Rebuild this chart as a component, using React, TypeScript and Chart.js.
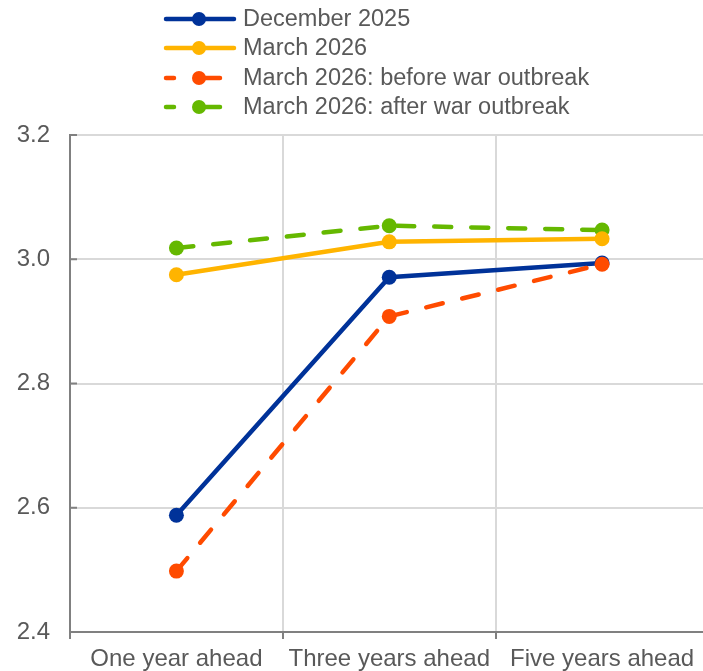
import React, { useEffect, useRef } from "react";
import { Chart, registerables } from "chart.js";

Chart.register(...registerables);

const categories = ["One year ahead", "Three years ahead", "Five years ahead"];
const december2025 = [2.588, 2.971, 2.994];
const march2026 = [2.975, 3.028, 3.033];
const beforeWar = [2.498, 2.908, 2.992];
const afterWar = [3.018, 3.054, 3.047];
const seriesNames = [
  "December 2025",
  "March 2026",
  "March 2026: before war outbreak",
  "March 2026: after war outbreak",
];
const seriesColors = ["#003299", "#FFB400", "#FF4B00", "#65B800"];
const seriesDashed = [false, false, true, true];
const yMin = 2.4;
const yMax = 3.2;
const yStep = 0.2;

const FONT = "'Liberation Sans', Arial, sans-serif";
const TEXT = "#595959";
const AXIS = "#808080";
const GRID = "#d9d9d9";

const legendPlugin = {
  id: "customLegend",
  afterDraw(chart: any) {
    const ctx = chart.ctx;
    ctx.save();
    const rows = [19, 48, 78, 107];
    seriesNames.forEach((name, i) => {
      const y = rows[i];
      const color = seriesColors[i];
      ctx.strokeStyle = color;
      ctx.fillStyle = color;
      ctx.lineWidth = 4.5;
      ctx.lineCap = "round";
      ctx.beginPath();
      if (seriesDashed[i]) {
        ctx.moveTo(166, y);
        ctx.lineTo(174, y);
        ctx.moveTo(199, y);
        ctx.lineTo(220, y);
      } else {
        ctx.moveTo(166, y);
        ctx.lineTo(234, y);
      }
      ctx.stroke();
      ctx.beginPath();
      ctx.arc(199, y, 7, 0, Math.PI * 2);
      ctx.fill();
      ctx.fillStyle = TEXT;
      ctx.font = `23.5px ${FONT}`;
      ctx.textBaseline = "middle";
      ctx.textAlign = "left";
      ctx.fillText(name, 243, y + 1);
    });
    ctx.restore();
  },
};

const innerTicksPlugin = {
  id: "innerTicks",
  beforeDatasetsDraw(chart: any) {
    const ctx = chart.ctx;
    const ys = chart.scales.y;
    const left = chart.chartArea.left;
    ctx.save();
    ctx.strokeStyle = AXIS;
    ctx.lineWidth = 2;
    ys.ticks.forEach((t: any) => {
      const py = ys.getPixelForValue(t.value);
      ctx.beginPath();
      ctx.moveTo(left, py);
      ctx.lineTo(left + 7, py);
      ctx.stroke();
    });
    ctx.restore();
  },
};

export default function App() {
  const ref = useRef<HTMLCanvasElement>(null);
  useEffect(() => {
    const canvas = ref.current;
    if (!canvas) return;
    const values = [december2025, march2026, beforeWar, afterWar];
    const orders = [2, 1, 0, 3];
    const chart = new Chart(canvas, {
      type: "line",
      data: {
        labels: categories,
        datasets: values.map((v, i) => ({
          label: seriesNames[i],
          data: v,
          borderColor: seriesColors[i],
          backgroundColor: seriesColors[i],
          pointBackgroundColor: seriesColors[i],
          pointBorderWidth: 0,
          pointRadius: 7.5,
          borderWidth: 4.5,
          borderDash: seriesDashed[i] ? [17, 20] : [],
          borderCapStyle: seriesDashed[i] ? "round" : "butt",
          tension: 0,
          order: orders[i],
          fill: false,
        })),
      },
      options: {
        responsive: false,
        animation: false,
        devicePixelRatio: 1,
        layout: { padding: { top: 135, left: 0, right: 0, bottom: 0 } },
        plugins: {
          legend: { display: false },
          tooltip: { enabled: false },
        },
        scales: {
          x: {
            offset: true,
            grid: {
              offset: true,
              color: GRID,
              lineWidth: 2,
              drawTicks: true,
              tickLength: 7,
              tickColor: AXIS,
              tickWidth: 2,
            },
            border: { display: true, color: AXIS, width: 2 },
            ticks: {
              color: TEXT,
              font: { family: FONT, size: 24 },
              padding: 6,
              maxRotation: 0,
              autoSkip: false,
            },
            afterFit: (s: any) => {
              s.height = 39;
            },
          },
          y: {
            min: yMin,
            max: yMax,
            grid: { color: GRID, lineWidth: 2, drawTicks: false },
            border: { display: true, color: AXIS, width: 2 },
            ticks: {
              stepSize: yStep,
              color: TEXT,
              font: { family: FONT, size: 24 },
              padding: 20,
              callback: (v: any) => Number(v).toFixed(1),
            },
            afterFit: (s: any) => {
              s.width = 70;
            },
          },
        },
      },
      plugins: [legendPlugin, innerTicksPlugin],
    } as any);
    return () => chart.destroy();
  }, []);
  return (
    <div
      style={{
        position: "fixed",
        left: 0,
        top: 0,
        width: 703,
        height: 671,
        overflow: "hidden",
        background: "#fff",
      }}
    >
      <canvas
        ref={ref}
        width={716}
        height={671}
        style={{ width: 716, height: 671, display: "block" }}
      />
    </div>
  );
}
